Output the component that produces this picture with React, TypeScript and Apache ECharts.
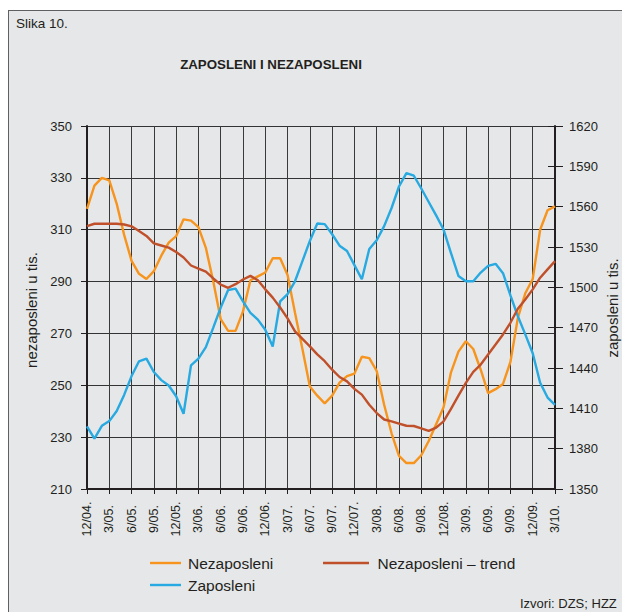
import React, { useEffect, useRef } from "react";
import * as echarts from "echarts";

const months = [
  "12/04.",
  "1/05.", "2/05.", "3/05.", "4/05.", "5/05.", "6/05.", "7/05.", "8/05.", "9/05.", "10/05.", "11/05.", "12/05.",
  "1/06.", "2/06.", "3/06.", "4/06.", "5/06.", "6/06.", "7/06.", "8/06.", "9/06.", "10/06.", "11/06.", "12/06.",
  "1/07.", "2/07.", "3/07.", "4/07.", "5/07.", "6/07.", "7/07.", "8/07.", "9/07.", "10/07.", "11/07.", "12/07.",
  "1/08.", "2/08.", "3/08.", "4/08.", "5/08.", "6/08.", "7/08.", "8/08.", "9/08.", "10/08.", "11/08.", "12/08.",
  "1/09.", "2/09.", "3/09.", "4/09.", "5/09.", "6/09.", "7/09.", "8/09.", "9/09.", "10/09.", "11/09.", "12/09.",
  "1/10.", "2/10.", "3/10."
];

// Nezaposleni (thousands, left axis)
const nezaposleni = [
  318, 327, 330, 329, 320, 308, 298, 293, 291, 294, 300, 305, 307.5,
  314, 313.5, 311, 303, 290, 275.5, 271, 271, 278.5, 290.5, 292, 293.5,
  299, 299, 292.5, 278, 264, 249.5, 246, 243, 246, 251, 253.5, 254.5,
  261, 260.5, 255.5, 242.5, 231.5, 222.8, 220, 220, 223, 228.5, 235, 241.5,
  255, 263, 267, 264, 256, 247, 248.5, 250.5, 259, 276, 285.5, 291,
  310, 317.5, 319
];

// Nezaposleni – trend (left axis)
const nezaposleniTrend = [
  311.4, 312.3, 312.3, 312.3, 312.3, 312, 311.3, 309.5, 307.6, 304.7, 303.9, 303.1, 301.4,
  299.3, 296.2, 295, 293.8, 291.2, 288.8, 287.6, 289, 290.8, 292.2, 290.5, 287,
  283.8, 280, 275.8, 270.8, 267.9, 265, 261.9, 259.3, 256, 253.2, 251.5, 248.6,
  246.4, 242.5, 239.3, 236.8, 236.1, 235.2, 234.4, 234.3, 233.4, 232.4, 233.7, 236.1,
  240.9, 246, 250.9, 255.2, 258, 261.9, 265.7, 269.6, 274.1, 279.5, 283.1, 287,
  291.5, 294.7, 297.9
];

// Zaposleni (thousands, right axis)
const zaposleni = [
  1396.6, 1387.5, 1397, 1400.5, 1408, 1420, 1434, 1445, 1447, 1437, 1431, 1427, 1419,
  1406, 1442, 1447, 1455.5, 1470, 1485, 1498, 1499, 1489.5, 1481, 1476, 1468.5,
  1456, 1489.5, 1495, 1504.5, 1519.5, 1534.5, 1547.5, 1547, 1539.5, 1531, 1527, 1516.5,
  1506, 1528.5, 1535, 1545.5, 1559, 1575, 1585, 1583, 1573.5, 1563.5, 1553.5, 1543,
  1525.5, 1508.5, 1504.5, 1504.5, 1511, 1516, 1517.5, 1510.5, 1494, 1478.5, 1465, 1451,
  1429, 1418, 1412.5
];

const leftAxis = { min: 210, max: 350, step: 20 };
const rightAxis = { min: 1350, max: 1620, step: 30 };

const FONT = "'Liberation Sans', Arial, Helvetica, sans-serif";
const TXT = "#231f20";
const C_NEZ = "#f7941d";
const C_TREND = "#c0502a";
const C_ZAP = "#27a9e1";

export default function App() {
  const ref = useRef<HTMLDivElement>(null);

  useEffect(() => {
    if (!ref.current) return;
    const chart = echarts.init(ref.current, null, { renderer: "svg" });
    const axisLineStyle = { color: TXT, width: 2 };
    const labelStyle = { color: TXT, fontSize: 13, fontFamily: FONT };
    chart.setOption({
      animation: false,
      backgroundColor: "transparent",
      grid: { left: 79, right: 67, top: 118, bottom: 123, containLabel: false },
      xAxis: {
        type: "category",
        data: months,
        boundaryGap: false,
        axisLine: { show: true, lineStyle: axisLineStyle },
        axisTick: { show: true, interval: 2, length: 5, lineStyle: { color: TXT, width: 1 } },
        axisLabel: {
          color: TXT,
          fontSize: 12.5,
          fontFamily: FONT,
          interval: 2,
          rotate: 90,
          align: "center",
          verticalAlign: "middle",
          margin: 30,
        },
        splitLine: { show: true, interval: 2, lineStyle: { color: "#3a3a3a", width: 1 } },
      },
      yAxis: [
        {
          type: "value",
          position: "left",
          min: leftAxis.min,
          max: leftAxis.max,
          interval: leftAxis.step,
          axisLine: { show: true, lineStyle: axisLineStyle },
          axisTick: { show: true, length: 6, lineStyle: { color: TXT, width: 1 } },
          axisLabel: { ...labelStyle, margin: 15, formatter: (v: number) => String(v) },
          splitLine: { show: true, lineStyle: { color: "#333333", width: 1 } },
        },
        {
          type: "value",
          position: "right",
          min: rightAxis.min,
          max: rightAxis.max,
          interval: rightAxis.step,
          axisLine: { show: true, lineStyle: axisLineStyle },
          axisTick: { show: true, length: 8, lineStyle: { color: TXT, width: 1 } },
          axisLabel: { ...labelStyle, margin: 14, formatter: (v: number) => String(v) },
          splitLine: { show: false },
        },
        {
          type: "value",
          position: "right",
          min: rightAxis.min,
          max: rightAxis.max,
          interval: rightAxis.step,
          axisLine: { show: false },
          axisTick: { show: true, inside: true, length: 7, lineStyle: { color: TXT, width: 1 } },
          axisLabel: { show: false },
          splitLine: { show: false },
        },
      ],
      series: [
        {
          name: "Nezaposleni",
          type: "line",
          data: nezaposleni,
          yAxisIndex: 0,
          symbol: "none",
          lineStyle: { color: C_NEZ, width: 2.4 },
          itemStyle: { color: C_NEZ },
          z: 3,
        },
        {
          name: "Zaposleni",
          type: "line",
          data: zaposleni,
          yAxisIndex: 1,
          symbol: "none",
          lineStyle: { color: C_ZAP, width: 2.4 },
          itemStyle: { color: C_ZAP },
          z: 4,
        },
        {
          name: "Nezaposleni – trend",
          type: "line",
          data: nezaposleniTrend,
          yAxisIndex: 0,
          symbol: "none",
          lineStyle: { color: C_TREND, width: 2.4 },
          itemStyle: { color: C_TREND },
          z: 5,
        },
      ],
      graphic: [
        {
          type: "text",
          x: 8,
          y: 15,
          style: { text: "Slika 10.", fill: TXT, font: `13.5px ${FONT}`, textVerticalAlign: "middle" },
        },
        {
          type: "text",
          x: 263,
          y: 56,
          style: {
            text: "ZAPOSLENI I NEZAPOSLENI",
            fill: TXT,
            font: `bold 13.3px ${FONT}`,
            textAlign: "center",
            textVerticalAlign: "middle",
          },
        },
        {
          type: "text",
          x: 23,
          y: 302,
          rotation: Math.PI / 2,
          style: {
            text: "nezaposleni u tis.",
            fill: TXT,
            font: `15px ${FONT}`,
            textAlign: "center",
            textVerticalAlign: "middle",
          },
        },
        {
          type: "text",
          x: 604,
          y: 300,
          rotation: Math.PI / 2,
          style: {
            text: "zaposleni u tis.",
            fill: TXT,
            font: `15px ${FONT}`,
            textAlign: "center",
            textVerticalAlign: "middle",
          },
        },
        { type: "line", shape: { x1: 142, y1: 555, x2: 173, y2: 555 }, style: { stroke: C_NEZ, lineWidth: 2.4 } },
        {
          type: "text",
          x: 180,
          y: 555,
          style: { text: "Nezaposleni", fill: TXT, font: `15.5px ${FONT}`, textVerticalAlign: "middle" },
        },
        { type: "line", shape: { x1: 315, y1: 555, x2: 361, y2: 555 }, style: { stroke: C_TREND, lineWidth: 2.4 } },
        {
          type: "text",
          x: 369.5,
          y: 555,
          style: { text: "Nezaposleni – trend", fill: TXT, font: `15.5px ${FONT}`, textVerticalAlign: "middle" },
        },
        { type: "line", shape: { x1: 142, y1: 577, x2: 173, y2: 577 }, style: { stroke: C_ZAP, lineWidth: 2.4 } },
        {
          type: "text",
          x: 180,
          y: 577,
          style: { text: "Zaposleni", fill: TXT, font: `15.5px ${FONT}`, textVerticalAlign: "middle" },
        },
        {
          type: "text",
          x: 512,
          y: 595,
          style: { text: "Izvori: DZS; HZZ", fill: TXT, font: `13px ${FONT}`, textVerticalAlign: "middle" },
        },
      ],
    });
    return () => chart.dispose();
  }, []);

  return (
    <div style={{ position: "absolute", left: 8, top: 8, width: 614, height: 604, overflow: "hidden" }}>
      <div
        style={{
          position: "absolute",
          left: 0,
          top: 2,
          width: 700,
          height: 700,
          background: "#e6e7e8",
          border: "1px solid #5f6062",
          boxSizing: "border-box",
        }}
      />
      <div ref={ref} style={{ position: "absolute", left: 0, top: 0, width: 614, height: 604 }} />
    </div>
  );
}
